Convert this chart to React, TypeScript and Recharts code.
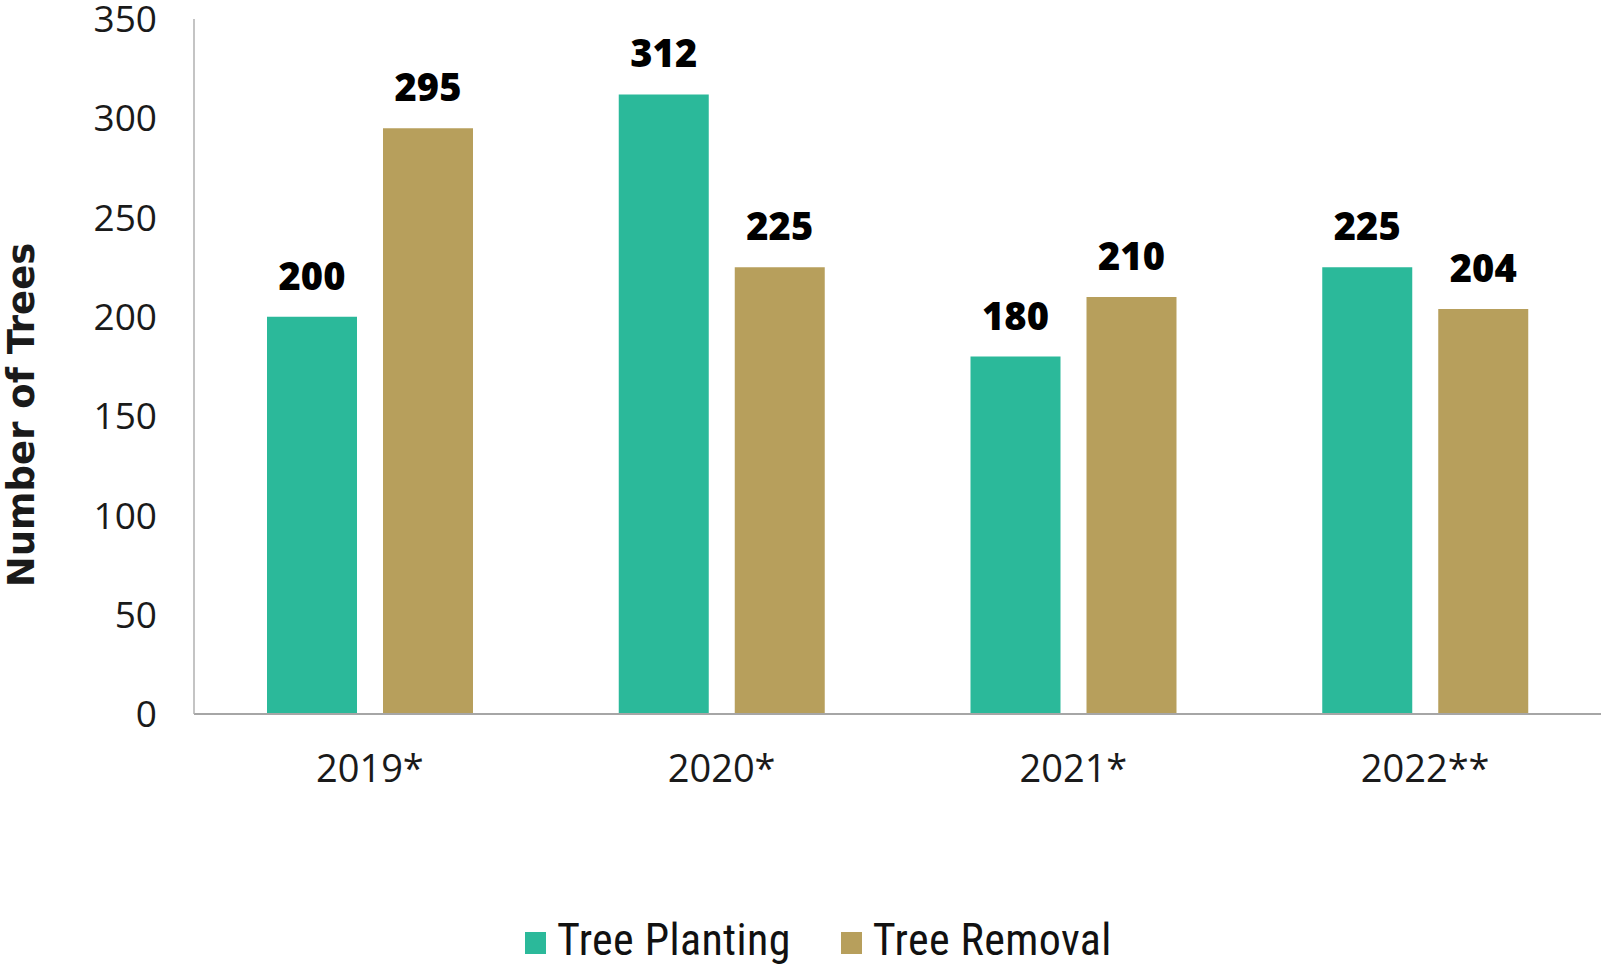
import { BarChart, Bar, XAxis, YAxis, Legend, LabelList } from "recharts";

const years = ["2019*", "2020*", "2021*", "2022**"];
const planting = [200, 312, 180, 225];
const removal = [295, 225, 210, 204];
const yTicks = [0, 50, 100, 150, 200, 250, 300, 350];

const GREEN = "#2BB99A";
const GOLD = "#B79F5C";

const data = years.map((year, i) => ({
  year,
  planting: planting[i],
  removal: removal[i],
}));

const legendItems = [
  { label: "Tree Planting", color: GREEN },
  { label: "Tree Removal", color: GOLD },
];

function TreeLegend() {
  return (
    <div
      style={{
        height: 60,
        display: "flex",
        alignItems: "flex-start",
        paddingLeft: 525,
        fontFamily: "'Liberation Sans Narrow', 'Roboto Condensed', 'Open Sans', sans-serif",
        fontSize: 44,
        letterSpacing: 0.4,
        color: "#111",
      }}
    >
      {legendItems.map((item, i) => (
        <div
          key={item.label}
          style={{ display: "flex", alignItems: "center", marginLeft: i === 0 ? 0 : 50, marginTop: 10 }}
        >
          <span
            style={{ width: 21, height: 22, background: item.color, marginRight: 11, marginTop: 6, display: "inline-block" }}
          />
          <span style={{ lineHeight: "50px" }}>{item.label}</span>
        </div>
      ))}
    </div>
  );
}

export default function App() {
  return (
    <div style={{ position: "absolute", left: 0, top: 0, width: 1601, height: 965, background: "#fff" }}>
      <BarChart
        width={1601}
        height={965}
        data={data}
        margin={{ top: 19, right: 0, bottom: 0, left: 0 }}
        barGap={26}
        barSize={90}
      >
        <XAxis
          dataKey="year"
          height={191}
          tickLine={false}
          tickMargin={35}
          axisLine={{ stroke: "#a6a6a6", strokeWidth: 2 }}
          tick={{ fontSize: 38, fill: "#1a1a1a", fontFamily: "'Open Sans', sans-serif" }}
        />
        <YAxis
          width={194}
          domain={[0, 350]}
          ticks={yTicks}
          interval={0}
          tickLine={false}
          tickMargin={31}
          axisLine={{ stroke: "#b0b0b0", strokeWidth: 1.5 }}
          tick={{ fontSize: 37, fill: "#1a1a1a", fontFamily: "'Open Sans', sans-serif" }}
          label={{
            content: () => (
              <text
                x={34}
                y={415}
                transform="rotate(-90, 34, 415)"
                textAnchor="middle"
                fontFamily="'DejaVu Sans', sans-serif"
                fontWeight="bold"
                fontSize={37}
                fill="#1a1a1a"
              >
                Number of Trees
              </text>
            ),
          }}
        />
        <Legend verticalAlign="bottom" content={() => <TreeLegend />} />
        <Bar dataKey="planting" name="Tree Planting" fill={GREEN} isAnimationActive={false}>
          <LabelList
            dataKey="planting"
            position="top"
            offset={27}
            style={{ fontSize: 38, fontWeight: 800, fill: "#000", fontFamily: "'Open Sans', sans-serif" }}
          />
        </Bar>
        <Bar dataKey="removal" name="Tree Removal" fill={GOLD} isAnimationActive={false}>
          <LabelList
            dataKey="removal"
            position="top"
            offset={27}
            style={{ fontSize: 38, fontWeight: 800, fill: "#000", fontFamily: "'Open Sans', sans-serif" }}
          />
        </Bar>
      </BarChart>
    </div>
  );
}
